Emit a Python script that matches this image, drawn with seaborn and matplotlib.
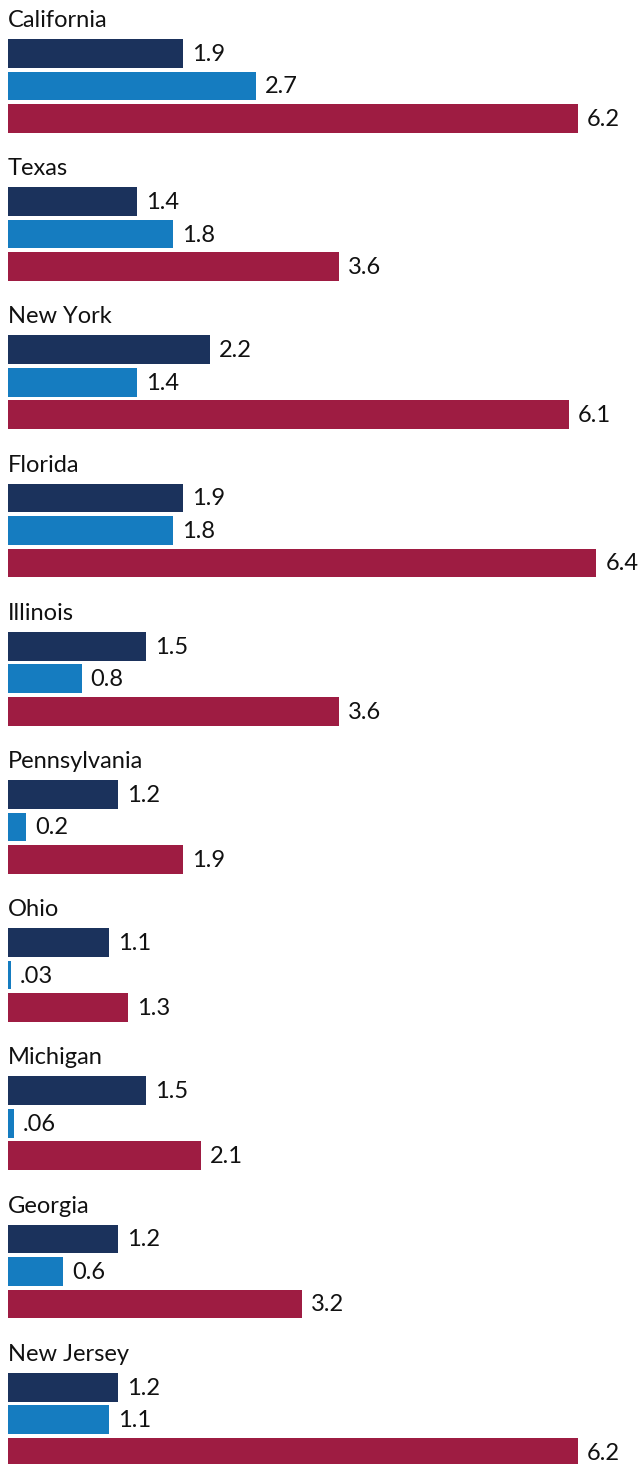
import matplotlib
matplotlib.use("Agg")
import matplotlib.pyplot as plt
import seaborn as sns
import pandas as pd
import numpy as np

states = ["California", "Texas", "New York", "Florida", "Illinois",
          "Pennsylvania", "Ohio", "Michigan", "Georgia", "New Jersey"]
series = ["Series A", "Series B", "Series C"]
vals_a = [1.9, 1.4, 2.2, 1.9, 1.5, 1.2, 1.1, 1.5, 1.2, 1.2]
vals_b = [2.7, 1.8, 1.4, 1.8, 0.8, 0.2, 0.03, 0.06, 0.6, 1.1]
vals_c = [6.2, 3.6, 6.1, 6.4, 3.6, 1.9, 1.3, 2.1, 3.2, 6.2]
labels_a = ["1.9", "1.4", "2.2", "1.9", "1.5", "1.2", "1.1", "1.5", "1.2", "1.2"]
labels_b = ["2.7", "1.8", "1.4", "1.8", "0.8", "0.2", ".03", ".06", "0.6", "1.1"]
labels_c = ["6.2", "3.6", "6.1", "6.4", "3.6", "1.9", "1.3", "2.1", "3.2", "6.2"]
colors = ["#1b325c", "#157cc0", "#9e1c42"]

W, H = 643, 1464
sns.set_theme(style="white")
plt.rcParams["font.family"] = ["Lato", "DejaVu Sans"]

# layout in pixel units (y axis = pixels from top)
PERIOD = 148.2
FIRST_TOP = 39.0
STEP = 32.5
BAR_H = 28.7

rows = []
all_vals = [vals_a, vals_b, vals_c]
all_labels = [labels_a, labels_b, labels_c]
for g, st in enumerate(states):
    for i, s in enumerate(series):
        ypos = FIRST_TOP + PERIOD * g + BAR_H / 2 + STEP * i
        rows.append({"state": st, "series": s, "value": all_vals[i][g],
                     "label": all_labels[i][g], "ypos": round(ypos, 3)})
df = pd.DataFrame(rows)

fig = plt.figure(figsize=(W / 100, H / 100), dpi=100)
ax = fig.add_axes([0, 0, 1, 1])
sns.barplot(data=df, x="value", y="ypos", hue="series", orient="h",
            native_scale=True, dodge=False, palette=colors, saturation=1,
            width=BAR_H / STEP, linewidth=0, legend=False, ax=ax)

PX = 570 / 6.2  # pixels per unit
ax.set_xlim(-8 / PX, (W - 8) / PX)
ax.set_ylim(H, 0)
ax.axis("off")

FS = 17
txt_color = "#111111"
for _, r in df.iterrows():
    ax.text(r["value"] + 9 / PX, r["ypos"] + 1, r["label"], va="center",
            ha="left", fontsize=FS, color=txt_color)
for g, st in enumerate(states):
    ax.text(0, FIRST_TOP + PERIOD * g - 12, st, va="baseline", ha="left",
            fontsize=FS, color=txt_color)

fig.savefig("out.png", dpi=100)
